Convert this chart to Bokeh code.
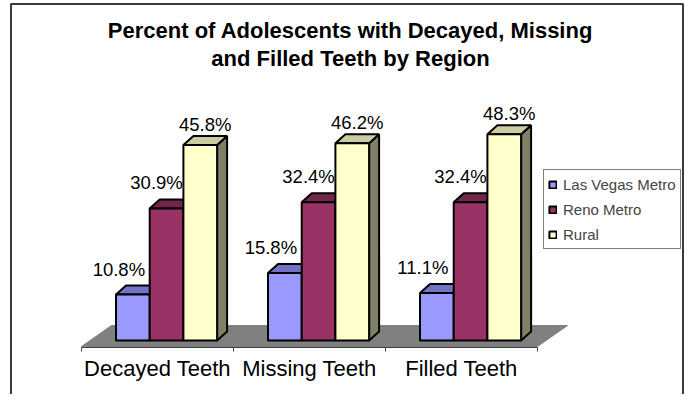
from bokeh.plotting import figure
from bokeh.models import Range1d, Label, Legend, LegendItem
from bokeh.core.properties import value
from bokeh.embed import file_html
from bokeh.resources import INLINE

# ---- data ----
categories = ["Decayed Teeth", "Missing Teeth", "Filled Teeth"]
series_names = ["Las Vegas Metro", "Reno Metro", "Rural"]
las_vegas = [10.8, 15.8, 11.1]
reno = [30.9, 32.4, 32.4]
rural = [45.8, 46.2, 48.3]
title_lines = ["Percent of Adolescents with Decayed, Missing", "and Filled Teeth by Region"]

series_values = [las_vegas, reno, rural]

# ---- style ----
front_colors = ["#9999FF", "#993366", "#FFFFCC"]
top_colors = ["#7373C6", "#73264D", "#CCCCA3"]
side_colors = ["#5C5C99", "#5C1F3D", "#808066"]
FONT = "Liberation Sans"

W, H = 684, 394
PX_X = 152.0   # px per category
PX_Y = 4.27    # px per percent
X0, Y0 = 81, 340   # pixel position of (0,0) inside the frame (from top-left)

x_start = -X0 / PX_X
x_end = x_start + W / PX_X
y_end = Y0 / PX_Y
y_start = y_end - H / PX_Y

def px_x(px):
    return x_start + px / PX_X

def px_y(py):
    return y_end - py / PX_Y

p = figure(width=W, height=H, output_backend="svg", toolbar_location=None,
           x_range=Range1d(x_start, x_end), y_range=Range1d(y_start, y_end),
           x_axis_type=None, y_axis_type=None, min_border=0,
           background_fill_color="white", border_fill_color="white")
p.grid.visible = False
p.outline_line_color = None

# chart border (open at the bottom, as in the original)
p.quad(left=[px_x(10.5)], right=[px_x(682.5)], top=[px_y(3.5)], bottom=[px_y(420)],
       fill_color=None, line_color="#3a3a3a", line_width=2)

# 3-D geometry (in data units)
bw = 33.7 / PX_X
bar_dx, bar_dy = 10 / PX_X, 9 / PX_Y
floor_front, floor_back = -6 / PX_Y, 15 / PX_Y
floor_dx = 30 / PX_X
group_shift = 0.0596

n = len(categories)

# floor
p.patch([0, n, n + floor_dx, floor_dx], [floor_front, floor_front, floor_back, floor_back],
        fill_color="#808080", line_color="#808080", line_width=1)

# axis line and ticks at category boundaries
axis_y = -7 / PX_Y
tick_len = 4 / PX_Y
p.segment(x0=[0], y0=[axis_y], x1=[n], y1=[axis_y], line_color="#404040", line_width=1)
bounds = list(range(n + 1))
p.segment(x0=bounds, y0=[axis_y] * len(bounds), x1=bounds, y1=[axis_y - tick_len] * len(bounds),
          line_color="#404040", line_width=1)

# category labels
p.text(x=[i + 0.5 for i in range(n)], y=[-28 / PX_Y] * n, text=categories,
       text_font=value(FONT), text_font_size="22px", text_align="center",
       text_baseline="alphabetic", text_color="black")

label_dx = [-14 / PX_X, -10 / PX_X, 5 / PX_X]
label_dy = [5.9, 6.1, 4.8]

legend_items = []
for j, vals in enumerate(series_values):
    fx, fy, tx, ty, sx, sy = [], [], [], [], [], []
    lx, ly, lt = [], [], []
    for i, v in enumerate(vals):
        x0 = i + 0.5 - 1.5 * bw + group_shift + j * bw
        x1 = x0 + bw
        fx.append([x0, x1, x1, x0]); fy.append([0, 0, v, v])
        tx.append([x0, x1, x1 + bar_dx, x0 + bar_dx]); ty.append([v, v, v + bar_dy, v + bar_dy])
        sx.append([x1, x1 + bar_dx, x1 + bar_dx, x1]); sy.append([0, bar_dy, v + bar_dy, v])
        lx.append((x0 + x1) / 2 + label_dx[j]); ly.append(v + label_dy[j]); lt.append(f"{v:.1f}%")
    p.patches(sx, sy, fill_color=side_colors[j], line_color="black", line_width=2)
    p.patches(tx, ty, fill_color=top_colors[j], line_color="black", line_width=2)
    r = p.patches(fx, fy, fill_color=front_colors[j], line_color="black", line_width=2)
    p.text(x=lx, y=ly, text=lt, text_font=value(FONT), text_font_size="18.5px",
           text_align="center", text_baseline="alphabetic", text_color="black")
    legend_items.append(LegendItem(label=series_names[j], renderers=[r]))

# title
for k, line in enumerate(title_lines):
    base_y = 29.5 + 28.4 * k
    p.add_layout(Label(x=350, y=H - base_y, x_units="screen", y_units="screen",
                       text=line, text_font=FONT, text_font_size="22px", text_font_style="bold",
                       text_align="center", text_baseline="alphabetic", text_color="black"))

legend = Legend(items=legend_items, location=(543, H - 249), margin=0,
                padding=4, spacing=5, label_height=20, glyph_width=9, glyph_height=9,
                label_standoff=6, label_text_font=FONT, label_text_font_size="15px",
                border_line_color="black", border_line_width=1, background_fill_color="white",
                background_fill_alpha=1.0)
p.add_layout(legend, "center")

open("out.html", "w").write(file_html(p, INLINE))
